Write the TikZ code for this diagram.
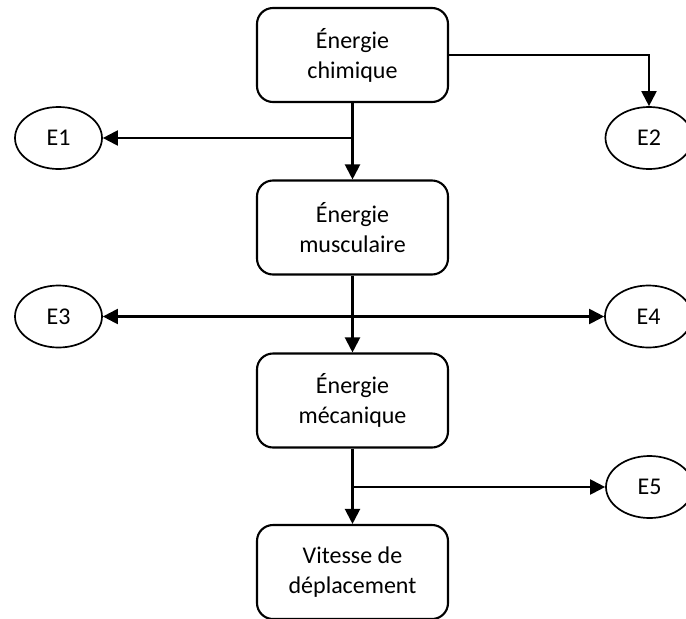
\documentclass[tikz,border=0pt]{standalone}
\usepackage{fontspec}
\setmainfont{Carlito}
\usepackage{tikz}
\usetikzlibrary{shapes.geometric,arrows.meta}

\begin{document}
\begin{tikzpicture}[x=1pt,y=-1pt,
  etape/.style={draw,line width=2.1pt,rounded corners=16pt,minimum width=191pt,minimum height=94pt,
    align=center,font=\fontsize{24}{30}\selectfont,inner sep=0pt},
  perte/.style={draw,ellipse,line width=1.7pt,minimum width=87pt,minimum height=62pt,
    inner sep=0pt,font=\fontsize{24}{30}\selectfont},
  fleche/.style={line width=2.1pt,->,>={Triangle[length=15pt,width=15pt]}}]
\useasboundingbox (0,0) rectangle (686,619);
% les quatre etapes
\node[etape] (chimique) at (352.5,55) {Énergie\\chimique};
\node[etape] (musculaire) at (352.5,227.5) {Énergie\\musculaire};
\node[etape] (mecanique) at (352.5,400.5) {Énergie\\mécanique};
\node[etape] (vitesse) at (352.5,572) {Vitesse de\\déplacement};
% les pertes
\node[perte] (e1) at (58.5,138) {E1};
\node[perte] (e2) at (649,138) {E2};
\node[perte] (e3) at (58.5,316.5) {E3};
\node[perte] (e4) at (648.5,316.5) {E4};
\node[perte] (e5) at (649.5,487) {E5};
\coordinate (b1) at (chimique.south |- e1.east);
\coordinate (b5) at (mecanique.south |- e5.west);
% fleches
\draw[fleche] (chimique) -- (musculaire);
\draw[fleche] (musculaire) -- (mecanique);
\draw[fleche] (mecanique) -- (vitesse);
\draw[fleche] (b1) -- (e1);
\draw[fleche] (chimique.east) -| (e2.north);
\draw[fleche,<->] (e3) -- (e4);
\draw[fleche] (b5) -- (e5);
\end{tikzpicture}
\end{document}
